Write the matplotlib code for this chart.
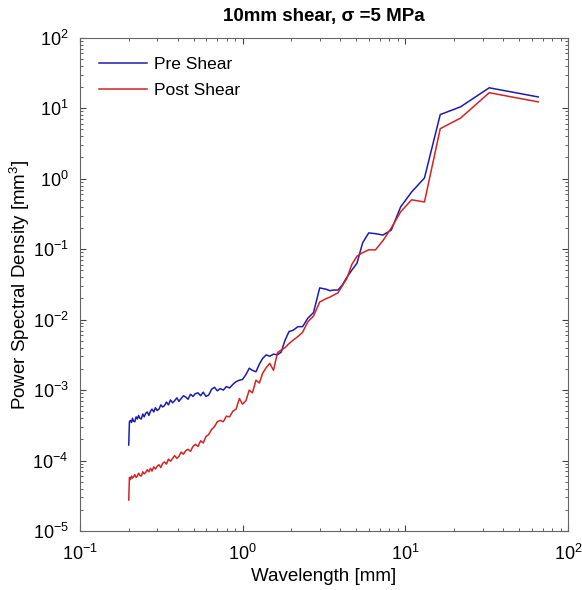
import numpy as np
import matplotlib
matplotlib.use("Agg")
import matplotlib.pyplot as plt

plt.rcParams['font.family'] = ['Liberation Sans', 'DejaVu Sans']
plt.rcParams['mathtext.fontset'] = 'custom'
plt.rcParams['mathtext.rm'] = 'Liberation Sans'

# wavelength [mm]
wavelength = [
    0.200, 0.202, 0.205, 0.208, 0.211, 0.214, 0.218, 0.222, 0.226, 0.230,
    0.234, 0.239, 0.244, 0.249, 0.254, 0.260, 0.266, 0.272, 0.278, 0.285,
    0.292, 0.299, 0.307, 0.315, 0.323, 0.332, 0.341, 0.351, 0.361, 0.372,
    0.383, 0.395, 0.407, 0.420, 0.434, 0.448, 0.463, 0.479, 0.496, 0.514,
    0.533, 0.553, 0.574, 0.596, 0.620, 0.645, 0.672, 0.700, 0.730, 0.762,
    0.796, 0.833, 0.872, 0.913, 0.957, 1.000,
    1.05, 1.10, 1.15, 1.21, 1.27, 1.33, 1.40, 1.47, 1.55, 1.64,
    1.73, 1.82, 1.93, 2.05, 2.19, 2.34, 2.52, 2.73, 2.98, 3.28,
    3.45, 3.64, 3.86, 4.10, 4.37, 4.69, 5.05, 5.47, 5.96, 6.56,
    7.29, 8.20, 9.37, 10.93, 13.12, 16.40, 21.87, 32.80, 65.60,
]

# log10 of power spectral density [mm^3]
pre_shear_log = [
    -3.78, -3.45, -3.43, -3.46, -3.40, -3.44, -3.45, -3.38, -3.41, -3.36,
    -3.40, -3.41, -3.34, -3.38, -3.33, -3.31, -3.36, -3.30, -3.27, -3.31,
    -3.25, -3.29, -3.27, -3.21, -3.24, -3.22, -3.17, -3.21, -3.14, -3.18,
    -3.15, -3.11, -3.16, -3.12, -3.08, -3.10, -3.13, -3.06, -3.09, -3.05,
    -3.04, -3.08, -3.03, -3.09, -3.07, -2.99, -2.96, -3.01, -2.98, -3.00,
    -2.95, -2.97, -2.92, -2.88, -2.86, -2.85,
    -2.78, -2.69, -2.72, -2.74, -2.63, -2.55, -2.50, -2.52, -2.49, -2.50,
    -2.46, -2.30, -2.17, -2.15, -2.10, -2.10, -1.98, -1.90, -1.55, -1.57,
    -1.59, -1.58, -1.58, -1.51, -1.40, -1.30, -1.20, -0.91, -0.77, -0.78,
    -0.80, -0.73, -0.40, -0.19, 0.01, 0.91, 1.02, 1.29, 1.16,
]

post_shear_log = [
    -4.56, -4.24, -4.27, -4.22, -4.25, -4.23, -4.20, -4.24, -4.22, -4.18,
    -4.21, -4.22, -4.16, -4.19, -4.17, -4.13, -4.16, -4.11, -4.15, -4.09,
    -4.12, -4.08, -4.06, -4.10, -4.04, -4.02, -4.05, -3.98, -4.01, -3.97,
    -3.93, -3.97, -3.94, -3.88, -3.91, -3.86, -3.84, -3.87, -3.80, -3.77,
    -3.80, -3.72, -3.75, -3.66, -3.63, -3.56, -3.52, -3.45, -3.43, -3.45,
    -3.37, -3.38, -3.30, -3.27, -3.12, -3.20,
    -3.15, -3.00, -3.04, -2.86, -2.90, -2.76, -2.68, -2.62, -2.72, -2.47,
    -2.43, -2.40, -2.34, -2.29, -2.24, -2.18, -2.03, -1.95, -1.75, -1.70,
    -1.68, -1.65, -1.62, -1.52, -1.42, -1.22, -1.10, -1.05, -1.01, -1.01,
    -0.88, -0.70, -0.47, -0.30, -0.33, 0.71, 0.86, 1.22, 1.09,
]

pre_shear = 10.0 ** np.array(pre_shear_log)
post_shear = 10.0 ** np.array(post_shear_log)

fig = plt.figure(figsize=(5.82, 5.90), dpi=100)
ax = fig.add_axes([0.137, 0.100, 0.839, 0.836])

ax.loglog(wavelength, pre_shear, color='#1c1cb4', lw=1.1, label='Pre Shear')
ax.loglog(wavelength, post_shear, color='#d62222', lw=1.1, label='Post Shear')

ax.set_xlim(0.1, 100)
ax.set_ylim(1e-5, 1e2)
ax.tick_params(which='both', direction='in', top=True, right=True, colors='#444444',
               labelcolor='black')
ax.tick_params(which='major', length=4, labelsize=13)
ax.tick_params(axis='x', which='major', pad=9)
ax.tick_params(axis='y', which='major', pad=8)
ax.tick_params(which='minor', length=2)
for s in ax.spines.values():
    s.set_color('#666666')

ax.set_xlabel('Wavelength [mm]', fontsize=13.5, labelpad=3)
ax.set_ylabel('Power Spectral Density [mm$^3$]', fontsize=13.5, labelpad=0)
ax.set_title('10mm shear, σ =5 MPa', fontsize=13.5, fontweight='bold', pad=12)

ax.legend(loc='upper left', frameon=False, fontsize=12.5, handlelength=2.8,
          borderaxespad=0.7, labelspacing=0.6, handletextpad=0.4)

fig.savefig('out.png', dpi=100)
